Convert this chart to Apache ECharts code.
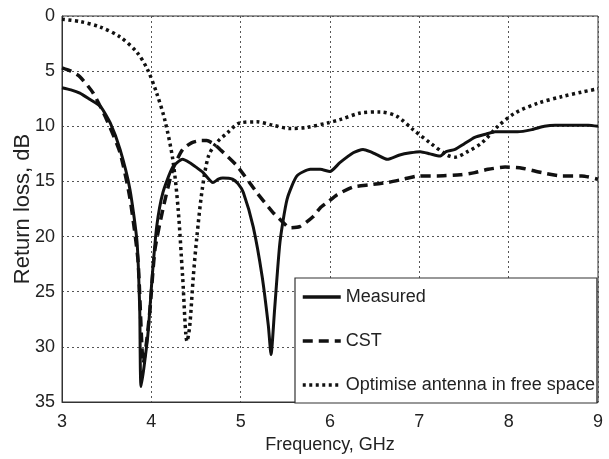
<!DOCTYPE html>
<html>
<head>
<meta charset="utf-8">
<script src="https://cdn.jsdelivr.net/npm/echarts@6/dist/echarts.min.js"></script>
<style>
html,body{margin:0;padding:0;background:#fff;}
#chart{width:609px;height:459px;}
</style>
</head>
<body>
<div id="chart"></div>
<script>
// ---- data ----
const xTicks = [3, 4, 5, 6, 7, 8, 9];
const yTicks = [0, 5, 10, 15, 20, 25, 30, 35];

const measuredFreq = [3.00,3.10,3.20,3.30,3.43,3.54,3.65,3.76,3.84,3.87,3.885,3.96,4.01,4.06,4.13,4.24,4.35,4.43,4.50,4.58,4.69,4.75,4.80,4.91,4.97,5.03,5.14,5.24,5.31,5.34,5.38,5.44,5.52,5.63,5.78,5.89,6.00,6.11,6.26,6.37,6.45,6.53,6.64,6.78,6.90,7.01,7.12,7.23,7.30,7.40,7.50,7.62,7.75,7.85,7.99,8.10,8.26,8.40,8.52,8.70,8.89,9.00];
const measuredRL   = [6.5,6.7,7.0,7.5,8.2,9.7,12.1,15.7,20.5,26.6,33.6,29.0,23.6,19.1,16.0,13.7,13.0,13.3,13.7,14.2,15.1,14.8,14.7,14.8,15.2,16.0,19.1,23.6,28.1,30.7,26.6,20.5,16.6,14.5,13.9,13.9,14.1,13.3,12.4,12.1,12.3,12.6,13.0,12.6,12.4,12.3,12.5,12.7,12.3,12.1,11.6,11.0,10.7,10.5,10.5,10.5,10.3,10.0,9.9,9.9,9.9,10.0];

const cstFreq = [3.00,3.10,3.20,3.35,3.50,3.65,3.76,3.85,3.91,3.94,3.985,4.04,4.13,4.24,4.35,4.45,4.55,4.62,4.70,4.77,4.96,5.18,5.36,5.46,5.55,5.66,5.81,5.89,5.97,6.08,6.26,6.45,6.64,6.82,7.00,7.20,7.46,7.62,7.77,7.96,8.15,8.37,8.60,8.82,9.00];
const cstRL   = [4.7,5.0,5.5,7.0,9.4,12.4,16.5,22.1,31.5,30.0,26.6,21.2,17.5,13.9,12.1,11.5,11.3,11.3,11.6,12.1,13.6,16.0,17.8,18.6,19.2,19.1,18.2,17.4,16.9,16.2,15.5,15.3,15.1,14.8,14.5,14.5,14.4,14.2,13.9,13.7,13.8,14.2,14.5,14.5,14.8];

const freeFreq = [3.00,3.20,3.43,3.65,3.84,3.96,4.06,4.15,4.24,4.30,4.35,4.40,4.43,4.47,4.51,4.57,4.64,4.73,4.85,4.99,5.18,5.36,5.55,5.74,5.97,6.11,6.34,6.56,6.75,6.93,7.12,7.31,7.40,7.54,7.70,7.88,8.07,8.33,8.60,8.82,9.00];
const freeRL   = [0.3,0.5,1.0,1.9,3.3,4.9,7.0,9.4,13.0,17.5,23.6,29.5,28.1,23.6,20.0,15.7,12.7,11.5,10.6,9.7,9.6,9.9,10.2,10.1,9.7,9.4,8.8,8.7,9.1,10.3,11.5,12.6,12.8,12.3,11.5,10.0,8.8,7.9,7.3,6.9,6.6];

const seriesNames = ['Measured', 'CST', 'Optimise antenna in free space'];
const xName = 'Frequency, GHz';
const yName = 'Return loss, dB';

function zip(a, b) { return a.map((v, i) => [v, b[i]]); }

const hFont = '"Liberation Sans", Arial, sans-serif';
const tickSize = 18;
const legendSize = 18;
const xNameSize = 18;

const chart = echarts.init(document.getElementById('chart'), null, {renderer: 'canvas'});
const black = '#111';
const gridLine = {show: true, lineStyle: {color: '#555', type: [2, 3], width: 1}};

chart.setOption({
  animation: false,
  backgroundColor: '#fff',
  grid: {left: 62, right: 11, top: 16, bottom: 56, show: true, borderColor: '#333', borderWidth: 1, backgroundColor: 'transparent'},
  xAxis: {
    type: 'value', min: xTicks[0], max: xTicks[xTicks.length - 1], interval: 1,
    name: xName, nameLocation: 'middle', nameGap: 34, nameMoveOverlap: false,
    nameTextStyle: {fontFamily: hFont, fontSize: xNameSize, color: '#222'},
    axisLine: {show: true, onZero: false, lineStyle: {color: '#333', width: 1}},
    axisTick: {show: false},
    axisLabel: {fontFamily: hFont, fontSize: tickSize, color: '#222', margin: 11,
      formatter: v => xTicks.includes(v) ? String(v) : ''},
    splitLine: gridLine
  },
  yAxis: {
    type: 'value', inverse: true, min: yTicks[0], max: yTicks[yTicks.length - 1], interval: 5,
    name: yName, nameLocation: 'middle', nameGap: 28, nameRotate: 90, nameMoveOverlap: false,
    nameTextStyle: {fontFamily: hFont, fontSize: 22, color: '#222'},
    axisLine: {show: true, onZero: false, lineStyle: {color: '#333', width: 1}},
    axisTick: {show: false},
    axisLabel: {fontFamily: hFont, fontSize: tickSize, color: '#222', margin: 7,
      formatter: v => yTicks.includes(v) ? String(v) : ''},
    splitLine: gridLine
  },
  legend: {
    show: true, orient: 'vertical', left: 295, top: 278,
    padding: [8, 2, 7, 6], itemGap: 22, itemWidth: 38, itemHeight: 14,
    backgroundColor: '#fff', borderColor: '#333', borderWidth: 1.2, borderRadius: 0,
    textStyle: {fontFamily: hFont, fontSize: legendSize, lineHeight: 22, color: '#222'},
    itemStyle: {opacity: 0},
    lineStyle: {width: 3.5},
    data: seriesNames
  },
  series: [
    {name: seriesNames[0], type: 'line', data: zip(measuredFreq, measuredRL), showSymbol: false, symbol: 'none',
     smooth: 0.2, lineStyle: {color: black, width: 3}, itemStyle: {color: black}, z: 3},
    {name: seriesNames[1], type: 'line', data: zip(cstFreq, cstRL), showSymbol: false, symbol: 'none',
     smooth: 0.2, lineStyle: {color: black, width: 3.5, type: [10, 6]}, itemStyle: {color: black}, z: 2},
    {name: seriesNames[2], type: 'line', data: zip(freeFreq, freeRL), showSymbol: false, symbol: 'none',
     smooth: 0.3, lineStyle: {color: black, width: 3.5, type: [3, 3.5]}, itemStyle: {color: black}, z: 2}
  ]
});
</script>
</body>
</html>
